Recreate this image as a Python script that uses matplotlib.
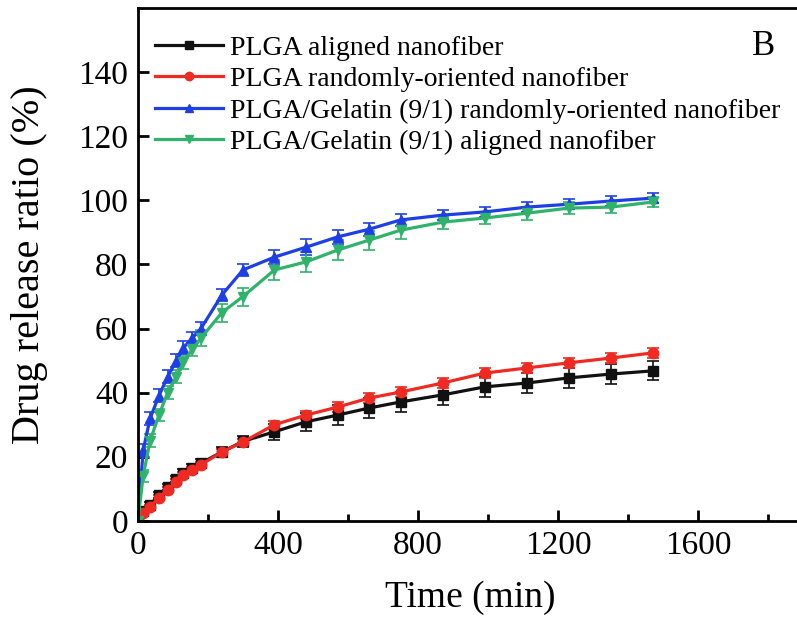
import numpy as np
import matplotlib.pyplot as plt
from matplotlib.ticker import MultipleLocator
from matplotlib.lines import Line2D

plt.rcParams['font.family'] = ['Liberation Serif', 'DejaVu Serif']

# time points (min)
t = [0, 15, 35, 60, 85, 110, 130, 155, 180, 240, 300, 390, 480, 570, 660, 750, 870, 990, 1110, 1230, 1350, 1470]

plga_aligned = [0, 3, 5, 8, 10.5, 13, 15, 16.5, 18, 21.5, 24.8, 27.8, 30.9, 33, 35.2, 37.1, 39.3, 41.8, 43, 44.6, 45.8, 46.8]
plga_aligned_err = [0.5, 0.8, 0.8, 1, 1, 1, 1.2, 1.2, 1.2, 1.5, 1.8, 2.5, 2.8, 3, 3, 3.2, 3.2, 3.2, 3.2, 3.2, 3.2, 3.0]

plga_random = [0, 2.5, 4.4, 7.2, 9.7, 12.2, 14.3, 15.9, 17.5, 21.5, 24.6, 30, 33, 35.5, 38.3, 40.2, 43, 46.1, 47.7, 49.3, 50.8, 52.4]
plga_random_err = [0.5, 0.6, 0.6, 0.8, 0.8, 0.8, 0.8, 1, 1, 1, 1, 1.2, 1.2, 1.5, 1.5, 1.5, 1.5, 1.5, 1.5, 1.5, 1.5, 1.5]

gel_random = [0, 22, 32, 39, 45, 50, 54, 57, 60, 70.5, 78.3, 82.3, 85.4, 88.6, 91, 93.9, 95.4, 96.4, 97.9, 98.8, 99.8, 100.7]
gel_random_err = [1, 2, 2, 2, 2, 2, 2, 2, 2, 2, 2, 2.2, 2.5, 2.2, 2, 2, 1.5, 1.5, 1.5, 1.5, 1.5, 1.5]

gel_aligned = [0, 14, 25, 33, 40, 45, 49.5, 53.5, 57, 65, 70, 78.3, 80.8, 84.5, 87.6, 90.7, 93.2, 94.5, 96, 97.6, 97.9, 99.5]
gel_aligned_err = [1, 2, 2, 2, 2, 2, 2, 2, 2.5, 2.8, 2.8, 3, 3, 3, 3, 2.8, 2, 2, 2, 1.8, 1.8, 1.5]

labels = ['PLGA aligned nanofiber',
          'PLGA randomly-oriented nanofiber',
          'PLGA/Gelatin (9/1) randomly-oriented nanofiber',
          'PLGA/Gelatin (9/1) aligned nanofiber']

fig = plt.figure(figsize=(7.97, 6.26), dpi=100)
ax = fig.add_axes([0.173, 0.168, 0.835, 0.819])

series = [
    (plga_aligned, plga_aligned_err, '#111111', 's'),
    (plga_random, plga_random_err, '#ee2a22', 'o'),
    (gel_random, gel_random_err, '#1f3fe6', '^'),
    (gel_aligned, gel_aligned_err, '#2fb36a', 'v'),
]
handles = []
for (y, e, c, m), lab in zip(series, labels):
    ax.errorbar(t, y, yerr=e, color=c, marker=m, markersize=7.5, lw=2.3,
                elinewidth=1.2, capsize=4, capthick=1.2)
    handles.append(Line2D([], [], color=c, marker=m, markersize=6, lw=2.3, label=lab))

ax.set_xlim(0, 1900)
ax.set_ylim(0, 160)
ax.xaxis.set_major_locator(MultipleLocator(400))
ax.xaxis.set_minor_locator(MultipleLocator(200))
ax.set_yticks(np.arange(0, 141, 20))

ax.tick_params(axis='both', which='both', direction='in', top=False, right=False,
               labelsize=24, width=2)
ax.tick_params(axis='both', which='major', length=8, pad=7)
ax.tick_params(axis='x', which='minor', length=5)
for s in ax.spines.values():
    s.set_linewidth(2)

ax.set_xlabel('Time (min)', fontsize=27, labelpad=14)
ax.set_ylabel('Drug release ratio (%)', fontsize=29, labelpad=22)

ax.text(0.94, 0.925, 'B', transform=ax.transAxes, fontsize=25, ha='center', va='center')

ax.legend(handles=handles, loc='upper left', frameon=False, fontsize=20, handlelength=2.45,
          handletextpad=0.25, labelspacing=0.22, borderaxespad=0.2,
          bbox_to_anchor=(0.0, 0.98))

fig.savefig('out.png', dpi=100)
